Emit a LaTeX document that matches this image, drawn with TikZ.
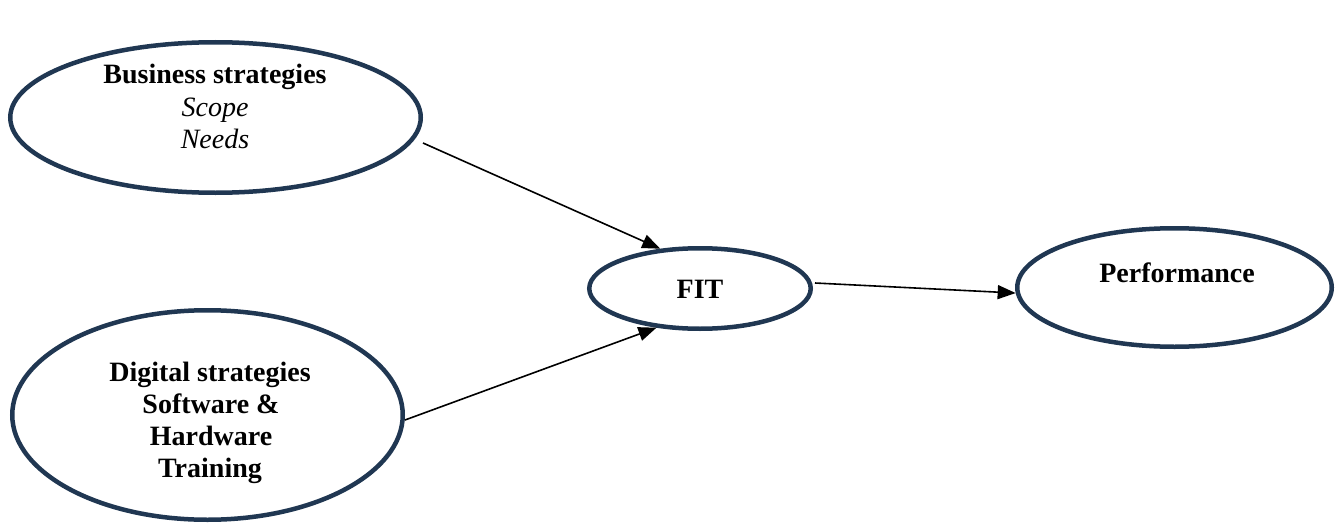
\documentclass[tikz,border=0pt]{standalone}
\usepackage{fontspec}
\setmainfont{Liberation Serif}
\usetikzlibrary{shapes.geometric,arrows.meta}
\definecolor{rim}{HTML}{203752}
\tikzset{
  bubble/.style={ellipse, draw=rim, line width=4.5pt, fill=white, inner sep=0pt},
  lbl/.style={anchor=base, inner sep=0pt, font=\fontsize{28}{32}\selectfont\bfseries},
  lbli/.style={anchor=base, inner sep=0pt, font=\fontsize{28}{32}\selectfont\itshape},
  link/.style={line width=1.6pt, -{Triangle[length=18pt,width=14pt]}}
}
\begin{document}
\begin{tikzpicture}[x=1pt, y=-1pt]
\useasboundingbox (0,0) rectangle (1341,527);

% ellipses
\node[bubble, minimum width=410.5pt, minimum height=150.5pt] (bs) at (215.5,117.5) {};
\node[bubble, minimum width=390.5pt, minimum height=209.5pt] (ds) at (207.5,415) {};
\node[bubble, minimum width=221.5pt, minimum height=80.5pt] (fit) at (700,288.5) {};
\node[bubble, minimum width=314.5pt, minimum height=118.5pt] (perf) at (1174.5,287.5) {};

% labels
\node[lbl]  (bs1) at (215,84)  {Business strategies};
\node[lbli] (bs2) at (215,116) {Scope};
\node[lbli] (bs3) at (215,148) {Needs};

\node[lbl] (ds1) at (210,381) {Digital strategies};
\node[lbl] (ds2) at (211,413) {Software \&};
\node[lbl] (ds3) at (211,445) {Hardware};
\node[lbl] (ds4) at (210,477) {Training};

\node[lbl] (fitl)  at (700,298)  {FIT};
\node[lbl] (perfl) at (1177,282) {Performance};

% connectors
\coordinate (bsOut)  at (423,143);
\coordinate (dsOut)  at (405,420);
\coordinate (fitOut) at (815,283);
\draw[link] (bsOut) -- (fit.135);
\draw[link] (dsOut) -- (fit.222);
\draw[link] (fitOut) -- (perf.182);
\end{tikzpicture}
\end{document}
